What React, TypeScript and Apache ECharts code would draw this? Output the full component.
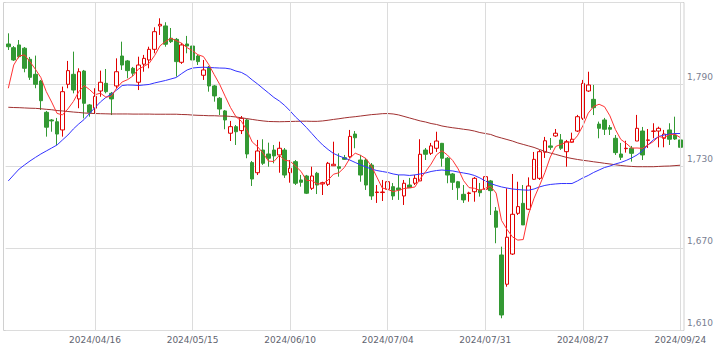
import React, { useEffect, useRef } from 'react';
import * as echarts from 'echarts';

// Trading days (category axis)
const dates: string[] = [
  '2024/03/25','2024/03/26','2024/03/27','2024/03/28','2024/03/29',
  '2024/04/01','2024/04/02','2024/04/03','2024/04/04','2024/04/05',
  '2024/04/08','2024/04/09','2024/04/10','2024/04/11','2024/04/12',
  '2024/04/15','2024/04/16','2024/04/17','2024/04/18','2024/04/19',
  '2024/04/22','2024/04/23','2024/04/24','2024/04/25','2024/04/26',
  '2024/04/30','2024/05/01','2024/05/02','2024/05/07','2024/05/08',
  '2024/05/09','2024/05/10','2024/05/13','2024/05/14','2024/05/15',
  '2024/05/16','2024/05/17','2024/05/20','2024/05/21','2024/05/22',
  '2024/05/23','2024/05/24','2024/05/27','2024/05/28','2024/05/29',
  '2024/05/30','2024/05/31','2024/06/03','2024/06/04','2024/06/05',
  '2024/06/06','2024/06/07','2024/06/10','2024/06/11','2024/06/12',
  '2024/06/13','2024/06/14','2024/06/17','2024/06/18','2024/06/19',
  '2024/06/20','2024/06/21','2024/06/24','2024/06/25','2024/06/26',
  '2024/06/27','2024/06/28','2024/07/01','2024/07/02','2024/07/03',
  '2024/07/04','2024/07/05','2024/07/08','2024/07/09','2024/07/10',
  '2024/07/11','2024/07/12','2024/07/16','2024/07/17','2024/07/18',
  '2024/07/19','2024/07/22','2024/07/23','2024/07/24','2024/07/25',
  '2024/07/26','2024/07/29','2024/07/30','2024/07/31','2024/08/01',
  '2024/08/02','2024/08/05','2024/08/06','2024/08/07','2024/08/08',
  '2024/08/09','2024/08/13','2024/08/14','2024/08/15','2024/08/16',
  '2024/08/19','2024/08/20','2024/08/21','2024/08/22','2024/08/23',
  '2024/08/26','2024/08/27','2024/08/28','2024/08/29','2024/08/30',
  '2024/09/02','2024/09/03','2024/09/04','2024/09/05','2024/09/06',
  '2024/09/09','2024/09/10','2024/09/11','2024/09/12','2024/09/13',
  '2024/09/17','2024/09/18','2024/09/19','2024/09/20','2024/09/24',
];

// Dates shown as x-axis tick labels (with vertical grid lines)
const labelDates: string[] = [
  '2024/04/16', '2024/05/15', '2024/06/10', '2024/07/04', '2024/07/31', '2024/08/27', '2024/09/24',
];

const opens: number[] = [
  1819.5, 1816.8, 1818.8, 1816.4, 1808.3, 1797.3, 1792.4, 1769.5, 1763.9, 1762.6,
  1756.6, 1790.0, 1797.3, 1779.3, 1799.7, 1774.9, 1772.5, 1785.1, 1790.7, 1783.4,
  1788.8, 1810.7, 1807.1, 1801.7, 1791.5, 1804.7, 1807.8, 1815.6, 1832.7, 1832.7,
  1823.7, 1822.9, 1806.1, 1819.5, 1818.0, 1810.7, 1796.6, 1802.5, 1788.8, 1779.8,
  1770.5, 1754.2, 1759.0, 1756.1, 1763.9, 1732.7, 1725.3, 1741.9, 1739.0, 1741.9,
  1738.3, 1741.9, 1725.3, 1733.4, 1720.0, 1722.9, 1713.9, 1724.9, 1717.1, 1716.8,
  1730.4, 1729.7, 1736.3, 1737.0, 1753.6, 1734.6, 1734.6, 1730.9, 1710.8, 1710.8,
  1713.2, 1715.1, 1714.1, 1708.3, 1716.3, 1717.6, 1719.3, 1741.9, 1739.5, 1743.2,
  1746.8, 1735.9, 1724.4, 1718.7, 1709.5, 1710.1, 1711.4, 1712.7, 1713.2, 1719.3,
  1697.3, 1665.1, 1643.7, 1665.8, 1695.6, 1702.9, 1698.6, 1720.5, 1721.2, 1740.3,
  1744.9, 1752.2, 1749.3, 1740.7, 1747.6, 1755.8, 1765.1, 1785.1, 1779.0, 1760.9,
  1763.9, 1758.3, 1750.5, 1739.0, 1742.9, 1743.2, 1748.5, 1755.8, 1749.0, 1755.6,
  1755.8, 1750.5, 1756.6, 1752.9, 1749.3,
];

const closes: number[] = [
  1817.5, 1807.8, 1810.2, 1801.7, 1795.1, 1790.0, 1778.0, 1758.6, 1763.2, 1753.6,
  1784.6, 1800.0, 1785.8, 1799.2, 1776.1, 1769.5, 1781.2, 1791.5, 1784.6, 1779.3,
  1799.2, 1804.1, 1800.0, 1798.1, 1804.1, 1809.0, 1815.6, 1828.5, 1833.9, 1819.3,
  1821.2, 1806.6, 1818.8, 1818.0, 1807.8, 1806.6, 1800.5, 1788.8, 1781.5, 1771.9,
  1763.9, 1759.0, 1755.3, 1765.1, 1739.0, 1720.7, 1741.2, 1732.2, 1735.9, 1737.6,
  1743.2, 1723.6, 1728.6, 1717.6, 1718.3, 1710.3, 1722.9, 1716.3, 1718.0, 1732.2,
  1731.5, 1728.5, 1735.1, 1751.9, 1750.9, 1723.6, 1716.3, 1708.3, 1711.2, 1711.2,
  1718.7, 1708.3, 1712.7, 1717.6, 1714.3, 1721.2, 1738.8, 1738.8, 1744.9, 1748.5,
  1735.9, 1723.6, 1718.3, 1714.3, 1705.4, 1710.5, 1721.2, 1710.7, 1722.4, 1712.2,
  1685.4, 1621.2, 1678.1, 1694.9, 1700.5, 1687.1, 1715.6, 1735.1, 1740.7, 1748.7,
  1743.9, 1754.2, 1743.2, 1748.0, 1749.8, 1766.3, 1790.7, 1789.5, 1772.9, 1757.8,
  1757.1, 1757.1, 1740.0, 1736.6, 1743.2, 1739.5, 1757.8, 1738.3, 1749.3, 1755.8,
  1757.8, 1753.6, 1749.8, 1750.0, 1743.9,
];

const lows: number[] = [
  1815.1, 1807.1, 1809.0, 1798.8, 1793.2, 1787.1, 1771.2, 1751.7, 1755.3, 1745.6,
  1751.7, 1787.1, 1783.4, 1772.5, 1765.1, 1766.3, 1768.8, 1780.9, 1783.4, 1767.5,
  1787.1, 1800.5, 1794.4, 1796.1, 1785.8, 1799.2, 1801.7, 1812.7, 1826.1, 1817.5,
  1820.2, 1795.6, 1804.9, 1812.7, 1804.1, 1804.1, 1793.2, 1784.6, 1777.3, 1767.5,
  1757.1, 1748.5, 1745.6, 1753.6, 1735.9, 1715.6, 1723.6, 1731.0, 1729.7, 1732.2,
  1725.3, 1721.5, 1718.0, 1716.3, 1715.1, 1709.7, 1712.7, 1709.7, 1709.0, 1715.6,
  1730.2, 1722.4, 1734.6, 1736.1, 1743.2, 1718.7, 1712.7, 1705.4, 1703.2, 1704.6,
  1706.8, 1705.4, 1705.4, 1701.7, 1714.1, 1716.3, 1719.3, 1734.6, 1738.3, 1740.5,
  1729.7, 1717.6, 1712.7, 1705.4, 1703.2, 1704.1, 1704.1, 1707.8, 1712.7, 1694.4,
  1673.7, 1618.8, 1641.9, 1665.1, 1694.4, 1687.1, 1698.0, 1720.0, 1720.0, 1736.1,
  1742.0, 1751.5, 1742.0, 1729.7, 1747.1, 1755.1, 1763.9, 1784.4, 1767.5, 1750.5,
  1752.9, 1752.9, 1738.3, 1734.6, 1740.0, 1733.4, 1748.5, 1734.6, 1743.4, 1750.5,
  1743.9, 1743.9, 1745.6, 1749.3, 1743.4,
];

const highs: number[] = [
  1827.3, 1818.0, 1822.4, 1817.3, 1810.0, 1811.0, 1793.2, 1770.5, 1764.6, 1765.4,
  1788.3, 1807.1, 1813.9, 1801.7, 1800.5, 1775.6, 1787.1, 1800.0, 1801.2, 1784.4,
  1809.0, 1821.2, 1807.8, 1802.7, 1810.2, 1811.5, 1817.5, 1831.7, 1838.3, 1835.4,
  1831.2, 1823.9, 1820.2, 1825.4, 1821.2, 1811.5, 1807.8, 1803.4, 1789.5, 1780.7,
  1771.2, 1763.2, 1760.2, 1766.8, 1764.6, 1733.9, 1749.3, 1749.8, 1747.3, 1745.6,
  1748.0, 1743.4, 1734.6, 1734.6, 1723.7, 1723.7, 1729.7, 1725.9, 1718.7, 1733.2,
  1748.0, 1739.5, 1738.3, 1756.6, 1755.8, 1738.3, 1736.1, 1732.4, 1716.3, 1720.0,
  1723.7, 1717.8, 1723.7, 1720.0, 1721.5, 1723.7, 1749.8, 1743.4, 1747.1, 1755.3,
  1747.1, 1736.8, 1725.1, 1719.3, 1716.3, 1711.4, 1722.2, 1717.8, 1728.6, 1720.0,
  1700.2, 1671.2, 1713.9, 1724.4, 1718.7, 1716.3, 1721.9, 1740.5, 1741.9, 1751.5,
  1750.7, 1757.3, 1753.6, 1749.3, 1754.6, 1767.6, 1793.2, 1799.2, 1789.5, 1762.7,
  1765.4, 1760.2, 1752.9, 1747.1, 1748.7, 1744.9, 1767.6, 1758.8, 1757.3, 1761.5,
  1759.0, 1756.6, 1761.5, 1766.3, 1750.0,
];

// 5-day MA: first four values (need earlier closes)
const ma5Lead: number[] = [1787.1, 1804.1, 1810.7, 1811.5];

// 25-day MA
const ma25: number[] = [
  1719.3, 1723.7, 1728.0, 1731.0, 1733.9, 1736.5, 1739.0, 1741.2, 1743.4, 1745.6,
  1749.3, 1752.9, 1757.3, 1761.0, 1764.3, 1768.7, 1773.0, 1777.1, 1780.4, 1782.9,
  1785.8, 1789.1, 1789.5, 1789.4, 1789.1, 1789.5, 1789.9, 1791.0, 1791.9, 1792.8,
  1793.9, 1795.0, 1797.9, 1800.5, 1801.9, 1802.3, 1802.5, 1802.3, 1802.1, 1801.9,
  1801.8, 1801.2, 1799.7, 1798.7, 1796.5, 1793.2, 1790.2, 1786.9, 1783.7, 1780.4,
  1777.8, 1774.5, 1770.5, 1766.1, 1762.4, 1758.4, 1754.0, 1749.6, 1745.6, 1742.3,
  1739.4, 1737.6, 1736.1, 1734.6, 1732.8, 1731.0, 1729.5, 1728.0, 1726.9, 1726.2,
  1725.5, 1724.4, 1723.7, 1723.7, 1723.3, 1723.7, 1724.4, 1725.1, 1726.2, 1726.9,
  1727.3, 1726.9, 1726.6, 1725.8, 1725.1, 1724.4, 1723.3, 1721.5, 1719.3, 1717.4,
  1716.0, 1714.9, 1714.1, 1713.4, 1713.0, 1712.7, 1712.5, 1713.4, 1714.9, 1716.0,
  1716.7, 1717.1, 1717.4, 1717.4, 1717.4, 1719.3, 1721.5, 1723.3, 1725.5, 1727.3,
  1729.1, 1730.2, 1731.7, 1732.8, 1734.3, 1736.1, 1738.3, 1741.2, 1745.6, 1749.3,
  1751.8, 1752.9, 1753.6, 1754.0, 1754.0,
];

// 75-day MA
const ma75: number[] = [
  1773.2, 1773.0, 1772.9, 1772.7, 1772.5, 1772.4, 1772.1, 1771.7, 1771.4, 1770.8,
  1770.5, 1770.1, 1769.7, 1769.4, 1769.0, 1768.8, 1768.6, 1768.5, 1768.4, 1768.3,
  1768.3, 1768.3, 1768.3, 1768.2, 1768.2, 1768.2, 1768.2, 1768.1, 1768.1, 1768.1,
  1768.1, 1768.1, 1767.9, 1767.8, 1767.5, 1767.3, 1767.2, 1767.0, 1767.0, 1766.8,
  1766.8, 1766.5, 1766.1, 1765.5, 1764.9, 1764.3, 1763.7, 1763.2, 1762.8, 1762.7,
  1762.6, 1762.7, 1762.8, 1762.9, 1763.0, 1763.0, 1762.9, 1762.9, 1763.2, 1763.7,
  1764.3, 1764.8, 1765.4, 1765.9, 1766.3, 1766.8, 1767.3, 1767.8, 1768.1, 1768.5,
  1768.6, 1768.3, 1767.6, 1766.5, 1765.4, 1764.3, 1763.2, 1762.4, 1761.3, 1760.6,
  1759.5, 1758.8, 1758.2, 1757.7, 1757.1, 1756.6, 1755.8, 1754.7, 1754.0, 1753.3,
  1751.8, 1750.7, 1749.6, 1748.5, 1747.1, 1746.0, 1744.9, 1743.8, 1742.3, 1740.9,
  1739.7, 1738.7, 1737.6, 1736.5, 1735.7, 1735.0, 1734.4, 1733.9, 1733.3, 1732.8,
  1732.2, 1731.7, 1731.1, 1730.6, 1730.2, 1729.9, 1729.7, 1729.7, 1729.7, 1729.7,
  1729.9, 1730.1, 1730.2, 1730.5, 1730.8,
];

const yMin = 1610;
const yMax = 1850;
const yStep = 60;

export default function App() {
  const ref = useRef<HTMLDivElement>(null);

  useEffect(() => {
    if (!ref.current) return;
    const chart = echarts.init(ref.current, undefined, { renderer: 'svg' });

    const candles = opens.map((o, i) => [o, closes[i], lows[i], highs[i]]);
    const ma5 = closes.map((c, i) => {
      if (i < 4) return ma5Lead[i];
      let s = 0;
      for (let k = i - 4; k <= i; k++) s += closes[k];
      return Math.round((s / 5) * 10) / 10;
    });
    const labelIdx = labelDates.map((d) => dates.indexOf(d));
    const font = 'DejaVu Sans, Verdana, sans-serif';

    chart.setOption({
      animation: false,
      backgroundColor: '#ffffff',
      grid: {
        left: 5.6,
        top: 2.3,
        width: 677.5,
        height: 328,
        show: false,
        outerBoundsMode: 'none',
      },
      graphic: [
        {
          type: 'rect',
          z: 0,
          silent: true,
          shape: { x: 3.5, y: 2.5, width: 680.5, height: 328 },
          style: { fill: 'none', stroke: '#d0d0d0', lineWidth: 1 },
        },
      ],
      xAxis: {
        type: 'category',
        data: dates,
        boundaryGap: true,
        axisLine: { show: false },
        axisTick: { show: false },
        splitLine: { show: false },
        axisLabel: {
          interval: (index: number) => labelIdx.indexOf(index) >= 0,
          color: '#5f6470',
          fontFamily: font,
          fontSize: 9,
          margin: 5,
        },
      },
      yAxis: {
        type: 'value',
        position: 'right',
        min: yMin,
        max: yMax,
        interval: yStep,
        axisLine: { show: false },
        axisTick: { show: false },
        splitLine: { show: true, lineStyle: { color: '#dcdcdc', width: 1 } },
        axisLabel: {
          showMaxLabel: false,
          formatter: (v: number) => v.toLocaleString('en-US'),
          color: '#7a8092',
          fontFamily: font,
          fontSize: 9,
          margin: 4,
          verticalAlign: 'bottom',
          lineHeight: 15,
        },
      },
      series: [
        {
          type: 'line',
          name: 'grid',
          data: [],
          silent: true,
          z: 1,
          markLine: {
            symbol: 'none',
            silent: true,
            label: { show: false },
            lineStyle: { color: '#dcdcdc', width: 1, type: 'solid' },
            emphasis: { disabled: true },
            data: labelIdx.map((i) => ({ xAxis: i })),
          },
        },
        {
          type: 'candlestick',
          name: 'price',
          data: candles,
          barWidth: 4,
          z: 2,
          itemStyle: {
            color: '#ffffff',
            color0: '#339933',
            borderColor: '#e00000',
            borderColor0: '#339933',
            borderColorDoji: '#e00000',
            borderWidth: 1,
          },
        },
        {
          type: 'line',
          name: 'MA75',
          data: ma75,
          showSymbol: false,
          symbol: 'none',
          z: 3,
          lineStyle: { color: '#a03030', width: 1 },
        },
        {
          type: 'line',
          name: 'MA25',
          data: ma25,
          showSymbol: false,
          symbol: 'none',
          z: 3,
          lineStyle: { color: '#3333ff', width: 1 },
        },
        {
          type: 'line',
          name: 'MA5',
          data: ma5,
          showSymbol: false,
          symbol: 'none',
          z: 3,
          lineStyle: { color: '#ff3333', width: 1 },
        },
      ],
    });

    return () => chart.dispose();
  }, []);

  return (
    <div
      ref={ref}
      style={{ position: 'fixed', left: 0, top: 0, width: 722, height: 354, background: '#fff' }}
    />
  );
}
